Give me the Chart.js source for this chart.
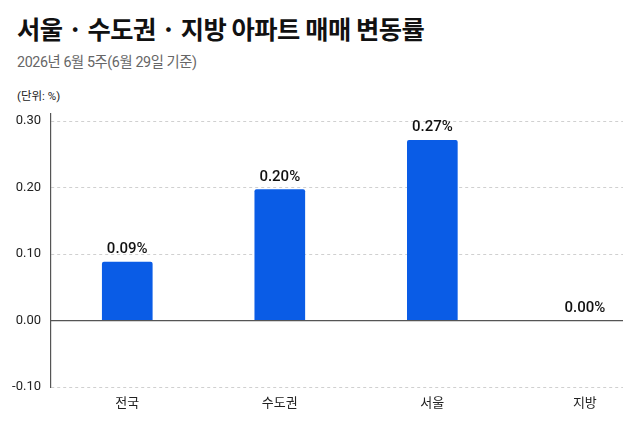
<!DOCTYPE html>
<html><head><meta charset="utf-8">
<script src="https://cdn.jsdelivr.net/npm/chart.js@4/dist/chart.umd.min.js"></script>
<style>
html,body{margin:0;padding:0;background:#fff;width:640px;height:427px;overflow:hidden;font-family:"Noto Sans CJK KR","Noto Sans",sans-serif;}
#title{position:absolute;left:17px;top:10px;font-size:25.3px;font-weight:700;color:#111;letter-spacing:-0.5px;white-space:nowrap;}
#sub{position:absolute;left:17px;top:50px;font-size:14.3px;color:#666;letter-spacing:-0.4px;white-space:nowrap;font-family:"Roboto","Noto Sans CJK KR",sans-serif;}
#unit{position:absolute;left:17px;top:87px;font-size:11.5px;color:#222;white-space:nowrap;font-family:"Roboto","Noto Sans CJK KR",sans-serif;}
#wrap{position:absolute;left:0;top:96px;width:640px;height:331px;}
</style></head>
<body>
<div id="title">서울 · 수도권 · 지방 아파트 매매 변동률</div>
<div id="sub">2026년 6월 5주(6월 29일 기준)</div>
<div id="unit">(단위: %)</div>
<div id="wrap"><canvas id="c"></canvas></div>
<script>
const categories = ['전국', '수도권', '서울', '지방'];
const values = [0.088, 0.197, 0.271, 0.0];
const yTicks = [-0.10, 0.00, 0.10, 0.20, 0.30];

const FONT = '"Roboto", "Noto Sans CJK KR", sans-serif';

const extras = {
  id: 'extras',
  afterDatasetsDraw(chart) {
    const ctx = chart.ctx, y = chart.scales.y, a = chart.chartArea;
    const y0 = y.getPixelForValue(0);
    ctx.save();
    ctx.strokeStyle = '#555';
    ctx.lineWidth = 1.2;
    ctx.beginPath(); ctx.moveTo(a.left, y0); ctx.lineTo(a.right, y0); ctx.stroke();
    const meta = chart.getDatasetMeta(0);
    ctx.fillStyle = '#111';
    ctx.font = '500 15px ' + FONT;
    ctx.textAlign = 'center';
    ctx.textBaseline = 'alphabetic';
    meta.data.forEach((bar, i) => {
      const top = Math.min(bar.y, bar.base);
      ctx.fillText(values[i].toFixed(2) + '%', bar.x, top - 9);
    });
    ctx.restore();
  }
};

new Chart(document.getElementById('c'), {
  type: 'bar',
  data: {
    datasets: [{
      data: values.map((v, i) => ({x: i, y: v})),
      backgroundColor: '#0a5ce6',
      barThickness: 50,
      borderRadius: {topLeft: 2, topRight: 2, bottomLeft: 0, bottomRight: 0},
      borderSkipped: false
    }]
  },
  options: {
    responsive: true,
    maintainAspectRatio: false,
    animation: false,
    layout: {padding: {top: 0, right: 17, left: 0, bottom: 0}},
    plugins: {legend: {display: false}, tooltip: {enabled: false}},
    scales: {
      x: {
        type: 'linear',
        offset: false,
        min: -0.5, max: 3.25,
        afterBuildTicks(s) { s.ticks = categories.map((c, i) => ({value: i})); },
        afterFit(s) { s.height = 40; },
        grid: {display: false, drawTicks: false},
        border: {display: false},
        ticks: {
          callback: (v) => categories[v],
          color: '#222', font: {family: FONT, size: 13}, padding: 9,
          maxRotation: 0, autoSkip: false
        }
      },
      y: {
        min: -0.10, max: 0.311,
        afterBuildTicks(s) { s.ticks = yTicks.map(v => ({value: v})); },
        afterFit(s) { s.width = 51; },
        grid: {
          color: (c) => c.tick && Math.abs(c.tick.value) < 1e-9 ? 'rgba(0,0,0,0)' : '#d0d0d0',
          drawTicks: false, lineWidth: 1
        },
        border: {display: true, color: '#555', width: 1.2, dash: [3, 3]},
        ticks: {
          callback: (v) => v.toFixed(2),
          color: '#222', font: {family: FONT, size: 13}, padding: 10
        }
      }
    }
  },
  plugins: [extras]
});
</script>
</body></html>
